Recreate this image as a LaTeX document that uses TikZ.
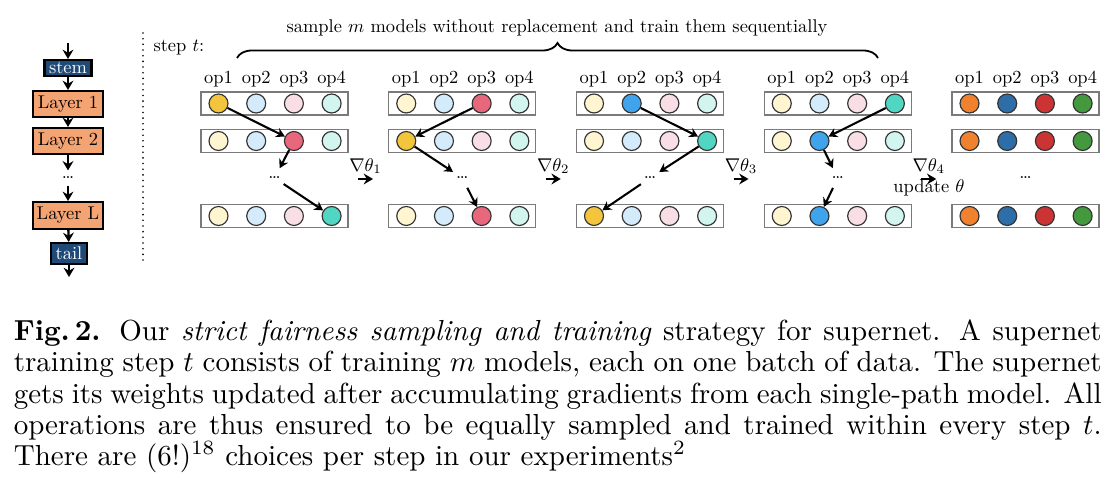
\documentclass[tikz,border=0pt]{standalone}
\usepackage{graphicx}
\usetikzlibrary{arrows.meta,decorations.pathreplacing}
\definecolor{stemblue}{HTML}{1F4A78}
\definecolor{layerorg}{HTML}{F4A372}
\definecolor{sel1}{HTML}{F2C53D}
\definecolor{sel2}{HTML}{3FA4EC}
\definecolor{sel3}{HTML}{E8677D}
\definecolor{sel4}{HTML}{52D6C4}
\definecolor{lt1}{HTML}{FFF5D0}
\definecolor{lt2}{HTML}{D3EBFA}
\definecolor{lt3}{HTML}{F9DEE6}
\definecolor{lt4}{HTML}{D3F5EF}
\definecolor{dk1}{HTML}{F0822F}
\definecolor{dk2}{HTML}{2D6DA8}
\definecolor{dk3}{HTML}{CB3433}
\definecolor{dk4}{HTML}{44993F}
\definecolor{rowgray}{HTML}{7A7A7A}
\newcommand{\dgtxt}[1]{\scalebox{0.715}{\fontsize{10}{12}\selectfont #1}}
\newcommand{\capjust}[1]{\scalebox{1.124}{\fontsize{10}{12}\selectfont\makebox[375.1pt][s]{#1}}}
\newcommand{\caplast}[1]{\scalebox{1.124}{\fontsize{10}{12}\selectfont #1}}
\begin{document}
\begin{tikzpicture}[x=0.3876pt, y=-0.3876pt,
  lbox/.style={draw=black, line width=0.8pt, inner sep=0pt},
  stembox/.style={lbox, fill=stemblue, text=white},
  layerbox/.style={lbox, fill=layerorg, minimum width=27.13pt},
  flow/.style={-{Stealth[length=3.4pt,width=3.8pt,inset=1.1pt]}, line width=0.8pt},
  bigflow/.style={-{Stealth[length=3.6pt,width=4.2pt,inset=1.2pt]}, line width=0.9pt},
  rowbox/.style={draw=rowgray, line width=0.5pt, fill=white, minimum width=56.98pt, minimum height=8.91pt, inner sep=0pt},
  opc/.style={circle, draw=black!80, line width=0.45pt, minimum size=7.36pt, inner sep=0pt},
  dotsn/.style={circle, minimum size=8.14pt, inner sep=0pt},
  oplbl/.style={inner sep=0pt},
  dotline/.style={line width=0.7pt, dash pattern=on 0pt off 2.2pt, line cap=round},
]
\fill[white] (0,0) rectangle (1120,496);
\useasboundingbox (0,0) rectangle (1120,496);

% left column
\coordinate (ltop) at (68,43);
\node[stembox, minimum width=18.22pt, minimum height=6.2pt] (stem) at (68,68) {\dgtxt{stem}};
\node[layerbox, minimum height=10.08pt] (L1) at (68,104) {\dgtxt{Layer 1}};
\node[layerbox, minimum height=10.08pt] (L2) at (68,141) {\dgtxt{Layer 2}};
\node[dotsn, minimum size=5.5pt] (ld) at (68,178) {\dgtxt{\dots}};
\node[layerbox, minimum height=10.47pt] (LL) at (68,215.5) {\dgtxt{Layer L}};
\node[stembox, minimum width=13.95pt, minimum height=8.14pt] (tail) at (69,253.5) {\dgtxt{tail}};
\coordinate (lbot) at (69,277);
\draw[bigflow] (ltop) -- (stem);
\draw[bigflow] (stem) -- (L1);
\draw[bigflow] (L1) -- (L2);
\draw[bigflow] (L2) -- (ld);
\draw[bigflow] (ld) -- (LL);
\draw[bigflow] (LL) -- (tail);
\draw[bigflow] (tail) -- (lbot);

% separator
\draw[dotline] (143,33) -- (143,264);
\node[anchor=west, inner sep=0pt] (steplbl) at (153,48) {\dgtxt{step $t$:}};

% brace
\coordinate (bl) at (237,58);
\coordinate (br) at (878,58);
\draw[decorate, decoration={brace, amplitude=5.81pt}, line width=0.7pt] (bl) -- (br);
\node[inner sep=0pt] (btext) at (557,28) {\dgtxt{sample $m$ models without replacement and train them sequentially}};

% groups
\foreach \g/\pa/\pb/\pc in {0/1/3/4,1/3/1/3,2/2/4/1,3/4/2/2,4/0/0/0}{
  \pgfmathsetmacro{\gx}{201+187.75*\g}
  \foreach \rw/\yy/\sl in {1/103.5/\pa,2/141/\pb,3/216/\pc}{
    \node[rowbox] (r\g-\rw) at ({\gx+73.5},\yy) {};
    \foreach \k in {1,...,4}{
      \ifnum\g=4 \def\fc{dk\k}\else\ifnum\k=\sl\relax \def\fc{sel\k}\else\def\fc{lt\k}\fi\fi
      \node[opc, fill=\fc] (c\g-\rw-\k) at ({\gx+17.5+37.7*(\k-1)},\yy) {};
    }
  }
  \foreach \k in {1,...,4}{
    \node[oplbl] (o\g-\k) at ({\gx+17.5+37.7*(\k-1)},79) {\dgtxt{op\k}};
  }
  \node[dotsn] (d\g) at ({\gx+73.5},178) {\dgtxt{\dots}};
  \ifnum\g<4
    \draw[flow] (c\g-1-\pa) -- (c\g-2-\pb);
    \draw[flow] (c\g-2-\pb) -- (d\g);
    \draw[flow] (d\g) -- (c\g-3-\pc);
  \fi
}

% gradient arrows
\foreach \i in {1,...,4}{
  \pgfmathsetmacro{\gxs}{201+187.75*(\i-1)+157}
  \coordinate (gs\i) at (\gxs,179);
  \coordinate (ge\i) at (\gxs+15,179);
  \draw[bigflow] (gs\i) -- node[above, inner sep=1.5pt] (gl\i) {\dgtxt{$\nabla\theta_{\i}$}} (ge\i);
}
\node[inner sep=0pt] (upd) at (929,188) {\dgtxt{update $\theta$}};

% caption
\node[anchor=base west, inner sep=0pt] (cap1) at (13.3,340.7) {\capjust{\textbf{Fig.\,2.} Our \emph{strict fairness sampling and training} strategy for supernet. A supernet}};
\node[anchor=base west, inner sep=0pt] (cap2) at (13.3,371.9) {\capjust{training step $t$ consists of training $m$ models, each on one batch of data. The supernet}};
\node[anchor=base west, inner sep=0pt] (cap3) at (13.3,403.1) {\capjust{gets its weights updated after accumulating gradients from each single-path model. All}};
\node[anchor=base west, inner sep=0pt] (cap4) at (13.3,434.3) {\capjust{operations are thus ensured to be equally sampled and trained within every step $t$.}};
\node[anchor=base west, inner sep=0pt] (cap5) at (13.3,465.5) {\caplast{There are $(6!)^{18}$ choices per step in our experiments$^2$}};
\end{tikzpicture}
\end{document}
